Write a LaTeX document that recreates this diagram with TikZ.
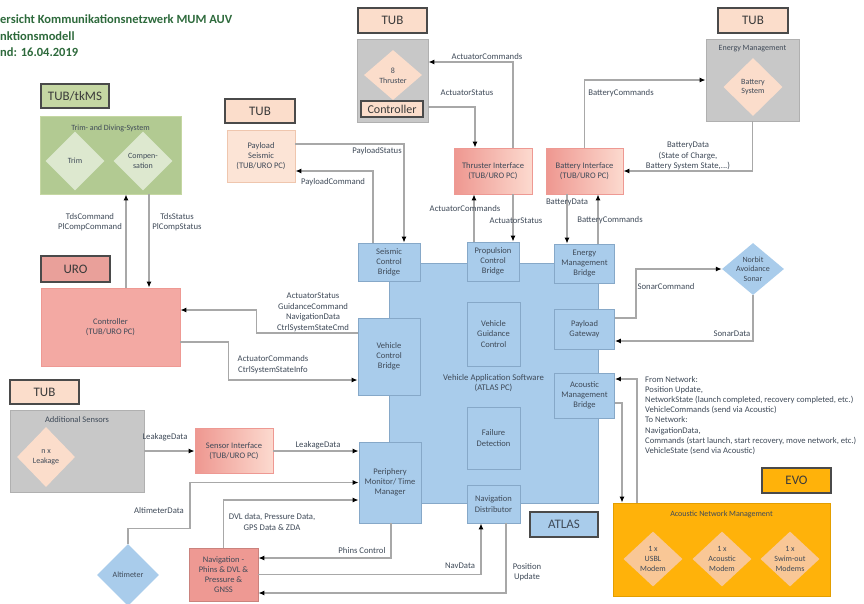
\documentclass[tikz,border=0pt]{standalone}
\usepackage{fontspec}
\setmainfont{Carlito}
\usetikzlibrary{arrows.meta,shapes.geometric}
\definecolor{txt}{HTML}{3F4A58}
\definecolor{ttl}{HTML}{2E6A3C}
\definecolor{linec}{HTML}{A8A8A8}
\definecolor{bluef}{HTML}{A9CCEB}
\definecolor{blued}{HTML}{86A8C8}
\definecolor{greyf}{HTML}{C8C8C8}
\definecolor{greyd}{HTML}{B0B0B0}
\definecolor{peach}{HTML}{FBDDCB}
\definecolor{peachl}{HTML}{FCE4D6}
\definecolor{peachd}{HTML}{EFC6AE}
\definecolor{salm}{HTML}{F3A9A3}
\definecolor{salmd}{HTML}{EE9993}
\definecolor{urot}{HTML}{E9A09A}
\definecolor{gradl}{HTML}{EE9790}
\definecolor{gradr}{HTML}{FCDACF}
\definecolor{greenb}{HTML}{B2CA92}
\definecolor{greent}{HTML}{C5D7A3}
\definecolor{greend}{HTML}{DDE8CF}
\definecolor{orng}{HTML}{FFB20A}
\definecolor{orngb}{HTML}{E39E00}
\definecolor{orngd}{HTML}{F9C796}
\definecolor{tagd}{HTML}{4A4A4A}
\definecolor{tagt}{HTML}{3A3A3A}
\begin{document}
\begin{tikzpicture}[x=1pt,y=-1pt,
  base/.style={rectangle,inner sep=0pt,align=center,text=txt,font=\fontsize{8.5}{10.2}\selectfont},
  bbox/.style={base,fill=bluef,draw=blued,line width=0.8pt},
  gbox/.style={base,fill=greyf,draw=greyd,line width=0.8pt},
  grad/.style={base,left color=gradl,right color=gradr,draw=salmd,line width=0.8pt},
  tag/.style={rectangle,inner sep=0pt,draw=tagd,line width=1.4pt,text=tagt,font=\fontsize{13}{15}\selectfont},
  dia/.style={diamond,inner sep=0pt,draw=none},
  dtext/.style={inner sep=0pt,align=center,text=txt,font=\fontsize{8}{9.6}\selectfont},
  lab/.style={inner sep=0pt,align=center,text=txt,font=\fontsize{8.7}{10.5}\selectfont},
  conn/.style={draw=linec,line width=1.2pt,-{Latex[length=6pt,width=5pt,color=black]}},
  sz/.style 2 args={minimum width=#1pt,minimum height=#2pt},
]
\useasboundingbox (0,0) rectangle (864,603);

% title
\node[anchor=west,inner sep=0pt,text=ttl,font=\bfseries\fontsize{12.5}{14}\selectfont] (t1) at (0,19) {ersicht Kommunikationsnetzwerk MUM AUV};
\node[anchor=west,inner sep=0pt,text=ttl,font=\bfseries\fontsize{12.5}{14}\selectfont] (t2) at (0,36) {nktionsmodell};
\node[anchor=west,inner sep=0pt,text=ttl,font=\bfseries\fontsize{12.5}{14}\selectfont] (t3) at (0,52) {nd: 16.04.2019};

% Trim and diving
\node[tag,fill=greent,sz={68}{24}] (tkms) at (75,96) {TUB/tkMS};
\node[base,fill=greenb,draw=greent,line width=0.8pt,sz={141}{78}] (tds) at (110.5,155) {};
\node[dtext] (tdst) at (110.5,128) {Trim- and Diving-System};
\node[dia,fill=greend,sz={59}{59}] (trim) at (75,161) {};
\node[dtext] (trimt) at (trim) {Trim};
\node[dia,fill=greend,sz={59}{59}] (comp) at (143,161) {};
\node[dtext] (compt) at (comp) {Compen-\\sation};

% Controller
\node[tag,fill=urot,sz={69}{26}] (uro) at (75.5,269) {URO};
\node[base,fill=salm,draw=salmd,line width=0.8pt,sz={139}{78}] (ctrl) at (110.5,327) {Controller\\(TUB/URO PC)};

% Thruster group
\node[tag,fill=peach,sz={69}{25}] (tub1) at (392.5,20.5) {TUB};
\node[gbox,sz={71}{83}] (thr) at (392.5,80.5) {};
\node[dia,fill=peach,sz={58}{50}] (thrd) at (393,75) {};
\node[dtext] (thrdt) at (393,76) {8\\Thruster};
\node[tag,fill=peach,line width=1.2pt,font=\fontsize{12}{14}\selectfont,sz={62}{16}] (ctl) at (392,109) {Controller};

\node[grad,sz={78}{46}] (ti) at (493,171) {Thruster Interface\\(TUB/URO PC)};
\node[grad,sz={77}{46}] (bi) at (584.5,171) {Battery Interface\\(TUB/URO PC)};

% payload seismic
\node[tag,fill=peach,sz={70}{24}] (tub2) at (260,111) {TUB};
\node[base,fill=peachl,draw=peachd,line width=0.8pt,sz={68}{52}] (ps) at (261,156) {Payload\\Seismic\\(TUB/URO PC)};

% energy management
\node[tag,fill=peach,sz={70}{25}] (tub3) at (753,20.5) {TUB};
\node[gbox,sz={93}{82}] (em) at (752.5,80) {};
\node[dtext] (emt) at (752.5,49) {Energy Management};
\node[dia,fill=peach,sz={59}{58}] (batt) at (753,87) {};
\node[dtext] (battt) at (batt) {Battery\\System};

% ATLAS
\node[bbox,font=\fontsize{8.7}{10.5}\selectfont,sz={209}{240}] (vas) at (493.5,383) {Vehicle Application Software\\(ATLAS PC)};
\node[bbox,sz={62}{38}] (scb) at (389,262) {Seismic\\Control\\Bridge};
\node[bbox,sz={52}{39}] (pcb) at (493,261.5) {Propulsion\\Control\\Bridge};
\node[bbox,sz={60}{39}] (emb) at (584.5,263.5) {Energy\\Management\\Bridge};
\node[bbox,sz={62}{77}] (vcb) at (389,356.5) {Vehicle\\Control\\Bridge};
\node[bbox,sz={53}{64}] (vgc) at (493.5,334) {Vehicle\\Guidance\\Control};
\node[bbox,sz={60}{40}] (pg) at (584.5,329) {Payload\\Gateway};
\node[bbox,sz={60}{45}] (amb) at (584.5,395.5) {Acoustic\\Management\\Bridge};
\node[bbox,sz={53}{62}] (fd) at (493.5,438) {Failure\\Detection};
\node[bbox,sz={53}{38}] (nd) at (493.5,504) {Navigation\\Distributor};
\node[bbox,sz={62}{81}] (pmtm) at (390,482.5) {Periphery\\Monitor/ Time\\Manager};
\node[tag,fill=bluef,text=txt,sz={68}{25}] (atlas) at (564,524.5) {ATLAS};

% sonar
\node[dia,fill=bluef,sz={62}{52}] (son) at (753,269) {};
\node[dtext] (sont) at (son) {Norbit\\Avoidance\\Sonar};

% acoustic network
\node[tag,fill=orng,sz={69}{25}] (evo) at (796.5,480.5) {EVO};
\node[base,fill=orng,draw=orngb,line width=0.8pt,sz={217}{93}] (anm) at (721.5,549.5) {};
\node[dtext] (anmt) at (721.5,514) {Acoustic Network Management};
\node[dia,fill=orngd,sz={59}{55}] (usbl) at (653,559) {};
\node[dtext] (usblt) at (usbl) {1 x\\USBL\\Modem};
\node[dia,fill=orngd,sz={59}{55}] (acm) at (722,559) {};
\node[dtext] (acmt) at (acm) {1 x\\Acoustic\\Modem};
\node[dia,fill=orngd,sz={59}{55}] (swim) at (790,559) {};
\node[dtext] (swimt) at (swim) {1 x\\Swim-out\\Modems};

% additional sensors
\node[tag,fill=peach,sz={69}{24}] (tub4) at (44.5,392) {TUB};
\node[gbox,sz={134}{82}] (as) at (77,451) {};
\node[dtext,font=\fontsize{8.5}{10}\selectfont] (ast) at (77,420) {Additional Sensors};
\node[dia,fill=peach,sz={58}{60}] (leak) at (46,457) {};
\node[dtext] (leakt) at (leak) {n x\\Leakage};
\node[grad,sz={78}{45}] (si) at (234,451) {Sensor Interface\\(TUB/URO PC)};
\node[dia,fill=bluef,sz={62}{62}] (alt) at (128,575) {};
\node[dtext] (altt) at (alt) {Altimeter};
\node[base,fill=salmd,draw=salmd!85!black,line width=0.8pt,sz={69}{53}] (nav) at (223.5,574.5) {Navigation -\\Phins \& DVL \&\\Pressure \&\\GNSS};

% connectors
\draw[conn] ([xshift=15.5pt]ctrl.north) -- ([xshift=15.5pt]tds.south);
\draw[conn] ([xshift=38.5pt]tds.south) -- ([xshift=38.5pt]ctrl.north);
\draw[conn] ([yshift=23.5pt]vcb.west) -- ++(-101,0) |- ([yshift=17pt]ctrl.east);
\draw[conn] ([yshift=-15pt]ctrl.east) -- ++(48,0) |- ([yshift=-23.5pt]vcb.west);
\draw[conn] ([xshift=20pt]ti.north) |- ([yshift=18.5pt]thr.east);
\draw[conn] ([yshift=-26.5pt]thr.east) -| ([xshift=-18pt]ti.north);
\draw[conn] ([xshift=-19pt]pcb.north) -- ([xshift=-19pt]ti.south);
\draw[conn] ([xshift=20pt]ti.south) -- ([xshift=20pt]pcb.north);
\draw[conn] ([yshift=12pt]ps.east) -| ([xshift=15pt]scb.north);
\draw[conn] ([xshift=-16pt]scb.north) |- ([yshift=-15pt]ps.east);
\draw[conn] (bi.north) |- (em.west);
\draw[conn] (em.south) |- (bi.east);
\draw[conn] ([xshift=-17.5pt]bi.south) -- ([xshift=-17.5pt]emb.north);
\draw[conn] ([xshift=13.5pt]emb.north) -- ([xshift=13.5pt]bi.south);
\draw[conn] ([yshift=11pt]pg.east) -- ++(21,0) |- (son.west);
\draw[conn] (son.south) |- ([yshift=-12pt]pg.east);
\draw[conn] ([yshift=-7.5pt]amb.east) -| ([xshift=-99.5pt]anm.north);
\draw[conn] ([xshift=-84.5pt]anm.north) |- ([yshift=16.5pt]amb.east);
\draw[conn] (as.east) -- (si.west);
\draw[conn] (si.east) -- (si.east -| pmtm.west);
\draw[conn] (alt.north) -- ++(0,-15) -- ++(62,0) |- (pmtm.west);
\draw[conn] (nav.north) |- ([yshift=-17.5pt]pmtm.west);
\draw[conn] ([xshift=1pt]pmtm.south) |- ([yshift=16.5pt]nav.east);
\draw[conn] (nav.east) -| ([xshift=-12.5pt]nd.south);
\draw[conn] ([xshift=12.5pt]nd.south) |- ([yshift=-18.5pt]nav.east);

% labels
\node[lab] (l1) at (90,222) {TdsCommand\\PlCompCommand};
\node[lab] (l2) at (177,222) {TdsStatus\\PlCompStatus};
\node[lab] (l3) at (313,312.5) {ActuatorStatus\\GuidanceCommand\\NavigationData\\CtrlSystemStateCmd};
\node[lab] (l4) at (273,364.5) {ActuatorCommands\\CtrlSystemStateInfo};
\node[lab] (l5) at (487,57) {ActuatorCommands};
\node[lab] (l6) at (467,93) {ActuatorStatus};
\node[lab] (l7) at (465,209) {ActuatorCommands};
\node[lab] (l8) at (516,221) {ActuatorStatus};
\node[lab] (l9) at (377,151) {PayloadStatus};
\node[lab] (l10) at (333,182) {PayloadCommand};
\node[lab] (l11) at (621,93) {BatteryCommands};
\node[lab] (l12) at (688,156) {BatteryData\\(State of Charge,\\Battery System State,...)};
\node[lab] (l13) at (567,202) {BatteryData};
\node[lab] (l14) at (610,220) {BatteryCommands};
\node[lab] (l15) at (666,287) {SonarCommand};
\node[lab] (l16) at (732,334) {SonarData};
\node[anchor=north west,inner sep=0pt,align=left,text=txt,font=\fontsize{8.6}{10.2}\selectfont] (net) at (645,376) {From Network:\\Position Update,\\NetworkState (launch completed, recovery completed, etc.)\\VehicleCommands (send via Acoustic)\\To Network:\\NavigationData,\\Commands (start launch, start recovery, move network, etc.)\\VehicleState (send via Acoustic)};
\node[lab] (l17) at (165,437) {LeakageData};
\node[lab] (l18) at (318,445) {LeakageData};
\node[lab] (l19) at (159,511) {AltimeterData};
\node[lab] (l20) at (272,522) {DVL data, Pressure Data,\\GPS Data \& ZDA};
\node[lab] (l21) at (362,550) {Phins Control};
\node[lab] (l22) at (460,566) {NavData};
\node[lab] (l23) at (527,572) {Position\\Update};
\end{tikzpicture}
\end{document}
